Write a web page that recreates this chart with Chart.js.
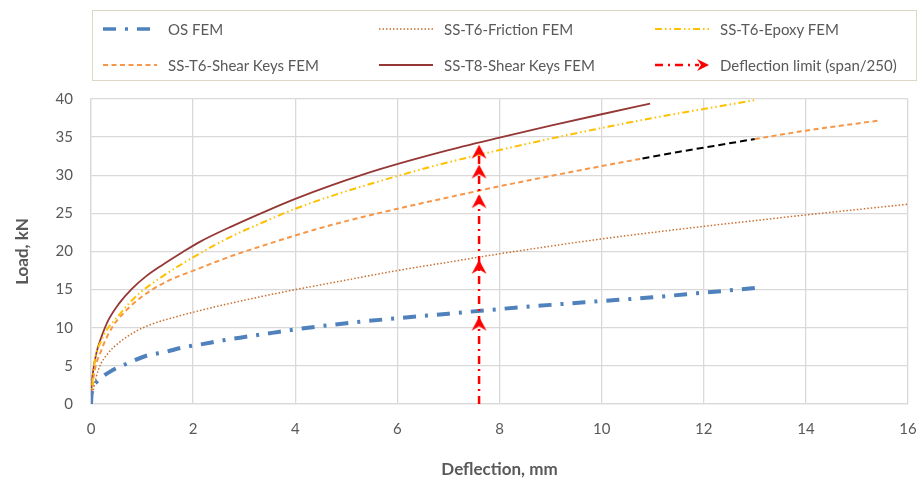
<!DOCTYPE html>
<html>
<head>
<meta charset="utf-8">
<script src="https://cdn.jsdelivr.net/npm/chart.js@4.4.1/dist/chart.umd.min.js"></script>
<style>
  html, body { margin: 0; padding: 0; background: #fff; }
  #wrap { position: relative; width: 921px; height: 485px; }
  #legend {
    position: absolute; left: 92px; top: 10px; width: 823px; height: 69px;
    border: 1.5px solid #ddd8c6; font-family: Lato, sans-serif; font-size: 15px; color: #595959;
  }
  .item { position: absolute; display: flex; align-items: center; height: 20px; white-space: nowrap; }
  .item svg { margin-right: 11px; }
</style>
</head>
<body>
<div id="wrap">
  <canvas id="chart" width="921" height="485"></canvas>
  <div id="legend"></div>
</div>
<script>
// deflection (mm) / load (kN)
const osX = [0, 0.013, 0.11, 0.375, 0.74, 1.07, 1.44, 1.79, 2.18, 2.59, 2.92, 3.31, 3.67, 4.08, 5, 6, 7, 8, 9, 10, 11, 12, 13];
const osY = [0, 1.4, 2.9, 4.25, 5.4, 6.3, 6.8, 7.4, 7.85, 8.35, 8.7, 9.1, 9.45, 9.85, 10.6, 11.25, 11.85, 12.45, 13.0, 13.5, 14.0, 14.6, 15.2];

const frictionX = [0, 0.05, 0.145, 0.34, 0.54, 0.87, 1.2, 1.59, 2.1, 2.79, 4, 4.72, 6, 7, 8, 9, 10, 11, 12, 13, 14, 15, 16];
const frictionY = [0, 2.0, 4.5, 6.7, 8.0, 9.5, 10.5, 11.3, 12.2, 13.3, 15.0, 15.9, 17.5, 18.6, 19.7, 20.7, 21.65, 22.5, 23.3, 24.05, 24.8, 25.5, 26.2];

const epoxyX = [0, 0.05, 0.21, 0.54, 0.93, 1.46, 1.99, 2.41, 2.79, 3.43, 4, 4.72, 6, 7, 8, 9, 10, 11, 12, 13.04];
const epoxyY = [0, 4.5, 8.4, 11.6, 14.4, 17.0, 19.2, 20.8, 22.1, 24.0, 25.6, 27.3, 29.9, 31.7, 33.3, 34.8, 36.2, 37.5, 38.7, 39.9];

const shearT6X = [0, 0.05, 0.2, 0.41, 0.65, 0.87, 1.2, 1.59, 2.05, 2.41, 2.79, 3.43, 4, 4.72, 6, 7, 8, 9, 10, 10.8, 11.5, 12.2, 13.0, 14.0, 15.4];
const shearT6Y = [0, 3.5, 7, 10, 12, 13.4, 15.0, 16.4, 17.6, 18.55, 19.5, 20.9, 22.1, 23.5, 25.6, 27.1, 28.55, 29.9, 31.2, 32.2, 33.05, 33.85, 34.75, 35.85, 37.15];
// extrapolated part of SS-T6-Shear Keys (drawn black)
const extrapFrom = 10.8;
const extrapTo = 13.0;

const shearT8X = [0, 0.013, 0.046, 0.11, 0.21, 0.34, 0.54, 0.8, 1.07, 1.39, 1.79, 2.14, 2.79, 3.43, 4, 4.72, 5.66, 7, 8, 9, 10, 10.95];
const shearT8Y = [0, 2.3, 4.5, 6.8, 8.9, 11.0, 13.1, 15.1, 16.7, 18.2, 19.9, 21.3, 23.4, 25.3, 26.9, 28.7, 30.8, 33.3, 34.95, 36.5, 38.0, 39.4];

const limitX = [7.6, 7.6, 7.6, 7.6, 7.6, 7.6];
const limitY = [0, 11.45, 18.9, 27.5, 31.4, 34.0];

const toXY = (xs, ys) => xs.map((x, i) => ({ x, y: ys[i] }));

function makeArrow(color) {
  const c = document.createElement('canvas');
  c.width = 16;
  c.height = 30;
  const g = c.getContext('2d');
  g.fillStyle = color;
  g.beginPath();
  g.moveTo(8, 15); // tip sits on the data point
  g.lineTo(15.5, 29);
  g.lineTo(8, 24.5);
  g.lineTo(0.5, 29);
  g.closePath();
  g.fill();
  return c;
}

const series = [
  { label: 'Deflection limit (span/250)', color: '#ff0000', dash: [8, 5, 2, 5], width: 2.5, x: limitX, y: limitY, arrow: true },
  { label: 'OS FEM', color: '#4f81bd', dash: [13, 9, 3, 9], width: 4, x: osX, y: osY },
  { label: 'SS-T6-Friction FEM', color: '#cb6f2e', dash: [1.5, 2], width: 1.5, x: frictionX, y: frictionY },
  { label: 'SS-T6-Epoxy FEM', color: '#ffc000', dash: [7, 3, 1.5, 3, 1.5, 3], width: 2, x: epoxyX, y: epoxyY },
  { label: 'SS-T6-Shear Keys FEM', color: '#f79646', dash: [5, 3.5], width: 2, x: shearT6X, y: shearT6Y, extrap: true },
  { label: 'SS-T8-Shear Keys FEM', color: '#953735', dash: [], width: 1.8, x: shearT8X, y: shearT8Y },
];

const legendOrder = ['OS FEM', 'SS-T6-Friction FEM', 'SS-T6-Epoxy FEM',
  'SS-T6-Shear Keys FEM', 'SS-T8-Shear Keys FEM', 'Deflection limit (span/250)'];

const arrowImg = makeArrow('#ff0000');

const datasets = series.map((s) => {
  const ds = {
    label: s.label,
    data: toXY(s.x, s.y),
    borderColor: s.color,
    backgroundColor: s.color,
    borderWidth: s.width,
    borderDash: s.dash,
    pointRadius: 0,
    cubicInterpolationMode: 'monotone',
    fill: false,
  };
  if (s.arrow) {
    ds.tension = 0;
    ds.cubicInterpolationMode = 'default';
    ds.pointStyle = arrowImg;
    ds.pointRadius = s.y.map((v, i) => (i === 0 ? 0 : 7));
  }
  if (s.extrap) {
    const inExtrap = (ctx) => ctx.p0.parsed.x >= extrapFrom - 1e-6 && ctx.p1.parsed.x <= extrapTo + 1e-6;
    ds.segment = {
      borderColor: (ctx) => (inExtrap(ctx) ? '#000000' : undefined),
      borderDash: (ctx) => (inExtrap(ctx) ? [7, 4] : undefined),
    };
  }
  return ds;
});

// html legend, 3 columns x 2 rows like the original
const legendEl = document.getElementById('legend');
legendOrder.forEach((name, i) => {
  const s = series.find((d) => d.label === name);
  const col = i % 3;
  const row = Math.floor(i / 3);
  const item = document.createElement('div');
  item.className = 'item';
  item.style.left = (10 + col * 276) + 'px';
  item.style.top = (8 + row * 36) + 'px';
  const dash = s.dash.length ? s.dash.join(' ') : 'none';
  let svg = '<svg width="54" height="12">' +
    '<line x1="0" y1="6" x2="' + (s.arrow ? 44 : 54) + '" y2="6" stroke="' + s.color +
    '" stroke-width="' + Math.min(s.width, 3.5) + '" stroke-dasharray="' + dash + '"/>';
  if (s.arrow) {
    svg += '<path d="M54 6 L42 0 L46 6 L42 12 Z" fill="' + s.color + '"/>';
  }
  svg += '</svg>';
  item.innerHTML = svg + '<span>' + s.label + '</span>';
  legendEl.appendChild(item);
});

const gridColor = '#d9d9d9';
const tickFont = { family: 'Lato, sans-serif', size: 15 };
const titleFont = { family: 'Lato, sans-serif', size: 17, weight: 'bold' };

new Chart(document.getElementById('chart'), {
  type: 'line',
  data: { datasets },
  options: {
    responsive: false,
    animation: false,
    layout: { padding: { top: 99, right: 13, bottom: 0, left: 0 } },
    plugins: {
      legend: { display: false },
      tooltip: { enabled: false },
    },
    scales: {
      x: {
        type: 'linear',
        min: 0,
        max: 16,
        afterFit: (s) => {
          s.height = 81;
          s.paddingLeft = 0;
          s.paddingRight = 0;
        },
        ticks: { stepSize: 2, color: '#595959', font: tickFont, padding: 16 },
        grid: { color: gridColor, lineWidth: 1.3, drawTicks: false },
        border: { color: gridColor, width: 1.3 },
        title: { display: true, text: 'Deflection, mm', color: '#595959', font: titleFont, padding: { top: 0, bottom: 5 } },
      },
      y: {
        type: 'linear',
        min: 0,
        max: 40,
        afterFit: (s) => { s.width = 91; },
        ticks: { stepSize: 5, color: '#595959', font: tickFont, padding: 18 },
        grid: { color: gridColor, lineWidth: 1.3, drawTicks: false },
        border: { color: gridColor, width: 1.3 },
        title: { display: true, text: 'Load, kN', color: '#595959', font: titleFont, padding: { top: 12, bottom: 0 } },
      },
    },
  },
});
</script>
</body>
</html>
